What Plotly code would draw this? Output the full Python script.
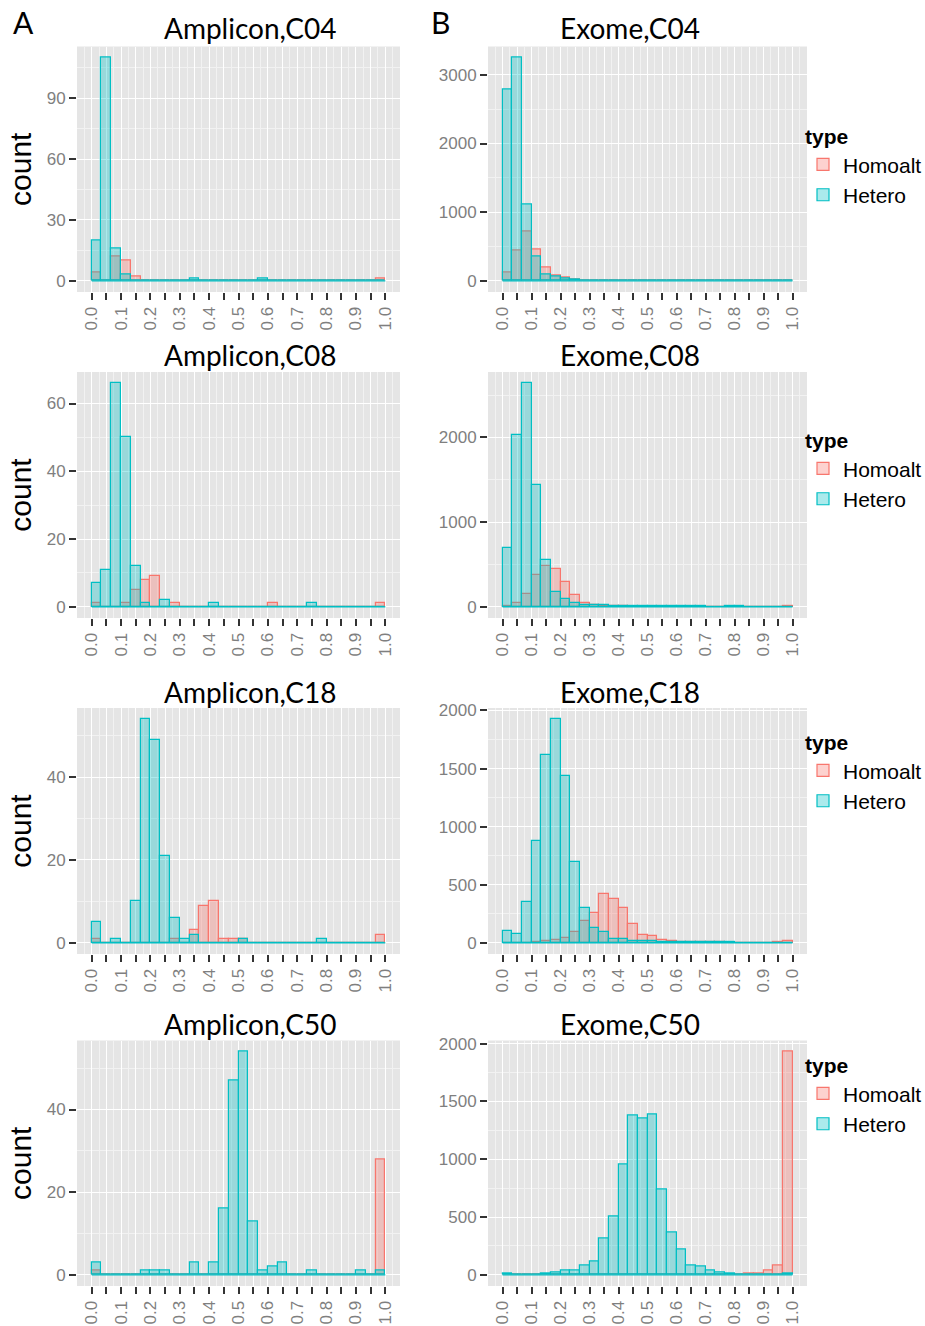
import numpy as np
import plotly.graph_objects as go

# ---------------- data (30 bins of allele frequency, 0..1) ----------------
N_BINS = 30
SERIES_NAMES = ["Homoalt", "Hetero"]
PANEL_TITLES = ["Amplicon,C04", "Exome,C04", "Amplicon,C08", "Exome,C08",
                "Amplicon,C18", "Exome,C18", "Amplicon,C50", "Exome,C50"]
X_TICK_LABELS = ["0.0", "0.1", "0.2", "0.3", "0.4", "0.5", "0.6", "0.7", "0.8", "0.9", "1.0"]
Y_TICK_STEP = [30, 1000, 20, 1000, 20, 500, 20, 500]

amp_c04_homo = [4, 0, 12, 10, 2, 0, 0, 0, 0, 0, 0, 0, 0, 0, 0, 0, 0, 0, 0, 0, 0, 0, 0, 0, 0, 0, 0, 0, 0, 1]
amp_c04_het = [20, 110, 16, 3, 0, 0, 0, 0, 0, 0, 1, 0, 0, 0, 0, 0, 0, 1, 0, 0, 0, 0, 0, 0, 0, 0, 0, 0, 0, 0]

exo_c04_homo = [120, 445, 720, 460, 190, 75, 45, 15, 8, 5, 3, 3, 2, 2, 2, 2, 1, 1, 1, 1, 1, 1, 1, 1, 1, 1, 1, 2, 3, 12]
exo_c04_het = [2790, 3250, 1110, 355, 92, 60, 35, 25, 8, 5, 10, 5, 4, 3, 3, 4, 3, 3, 3, 3, 3, 3, 3, 3, 3, 8, 3, 3, 5, 3]

amp_c08_homo = [1, 0, 0, 1, 5, 8, 9, 0, 1, 0, 0, 0, 0, 0, 0, 0, 0, 0, 1, 0, 0, 0, 0, 0, 0, 0, 0, 0, 0, 1]
amp_c08_het = [7, 11, 66, 50, 12, 1, 0, 2, 0, 0, 0, 0, 1, 0, 0, 0, 0, 0, 0, 0, 0, 0, 1, 0, 0, 0, 0, 0, 0, 0]

exo_c08_homo = [5, 50, 146, 380, 485, 445, 292, 142, 43, 20, 8, 5, 4, 3, 3, 2, 2, 2, 2, 2, 1, 1, 1, 1, 1, 1, 1, 1, 2, 12]
exo_c08_het = [700, 2030, 2640, 1435, 550, 178, 87, 43, 24, 16, 25, 12, 8, 8, 6, 6, 5, 5, 4, 4, 5, 3, 3, 4, 4, 3, 3, 3, 3, 3]

amp_c18_homo = [1, 0, 0, 0, 0, 0, 0, 0, 1, 0, 3, 9, 10, 1, 1, 1, 0, 0, 0, 0, 0, 0, 0, 0, 0, 0, 0, 0, 0, 2]
amp_c18_het = [5, 0, 1, 0, 10, 54, 49, 21, 6, 1, 2, 0, 0, 0, 0, 1, 0, 0, 0, 0, 0, 0, 0, 1, 0, 0, 0, 0, 0, 0]

exo_c18_homo = [0, 0, 0, 3, 15, 20, 45, 90, 190, 260, 420, 375, 300, 160, 65, 60, 25, 14, 10, 6, 4, 3, 3, 2, 2, 2, 2, 2, 3, 15]
exo_c18_het = [105, 80, 350, 880, 1620, 1925, 1440, 700, 300, 130, 90, 30, 30, 17, 15, 12, 8, 5, 4, 3, 3, 3, 3, 3, 2, 2, 2, 2, 2, 2]

amp_c50_homo = [1, 0, 0, 0, 0, 0, 0, 0, 0, 0, 0, 0, 0, 0, 0, 0, 0, 0, 0, 0, 0, 0, 0, 0, 0, 0, 0, 0, 0, 28]
amp_c50_het = [3, 0, 0, 0, 0, 1, 1, 1, 0, 0, 3, 0, 3, 16, 47, 54, 13, 1, 2, 3, 0, 0, 1, 0, 0, 0, 0, 1, 0, 1]

exo_c50_homo = [0, 0, 0, 0, 0, 0, 0, 0, 0, 0, 0, 0, 0, 0, 0, 0, 0, 0, 1, 1, 1, 1, 2, 2, 3, 8, 10, 35, 78, 1930]
exo_c50_het = [10, 2, 2, 3, 8, 20, 35, 35, 78, 113, 310, 505, 955, 1380, 1355, 1385, 735, 370, 215, 84, 72, 40, 20, 9, 5, 5, 4, 4, 4, 8]

PANEL_DATA = [
    (amp_c04_homo, amp_c04_het), (exo_c04_homo, exo_c04_het),
    (amp_c08_homo, amp_c08_het), (exo_c08_homo, exo_c08_het),
    (amp_c18_homo, amp_c18_het), (exo_c18_homo, exo_c18_het),
    (amp_c50_homo, amp_c50_het), (exo_c50_homo, exo_c50_het),
]

# ---------------- styling / layout ----------------
W, H = 925, 1326
COL_X = [(77, 400), (488, 807)]
ROW_Y = [(46.5, 292), (372, 618), (708, 954), (1040.5, 1286)]
TITLE_X = [250, 630]
TITLE_Y = [28, 355, 692, 1024]
LEGEND_TOP = [117, 421, 723, 1046]

RED_LINE = "#F8766D"
RED_FILL = "rgba(248,118,109,0.33)"
TEAL_LINE = "#00BFC4"
TEAL_FILL = "rgba(0,191,196,0.33)"
PANEL_BG = "#E5E5E5"
TICK_FONT = dict(family="Liberation Sans, Arial, sans-serif", size=17, color="#7F7F7F")
TITLE_FONT = "Lato, Open Sans, sans-serif"

edges = np.linspace(0.0, 1.0, N_BINS + 1)
centers = (edges[:-1] + edges[1:]) / 2
bin_w = edges[1] - edges[0]

x_tickvals = np.round(np.arange(0, 1.0001, 0.05), 2)
x_ticktext = []
for i in range(len(x_tickvals)):
    x_ticktext.append(X_TICK_LABELS[i // 2] if i % 2 == 0 else "")

fig = go.Figure()
layout = dict(
    width=W, height=H, autosize=False,
    margin=dict(l=0, r=0, t=0, b=0, pad=0, autoexpand=False),
    paper_bgcolor="white", plot_bgcolor=PANEL_BG,
    barmode="overlay", bargap=0,
    font=dict(family="Liberation Sans, Arial, sans-serif", color="black"),
    annotations=[], showlegend=True,
)

def px_to_paper_y(py):
    return 1 - py / H

for k, (homo, het) in enumerate(PANEL_DATA):
    r, c = divmod(k, 2)
    idx = "" if k == 0 else str(k + 1)
    xa, ya = "x" + idx, "y" + idx
    leg = "legend" if r == 0 else "legend%d" % (r + 1)
    show_leg = (c == 1)

    for name, vals, fill, line in [(SERIES_NAMES[0], homo, RED_FILL, RED_LINE),
                                    (SERIES_NAMES[1], het, TEAL_FILL, TEAL_LINE)]:
        fig.add_trace(go.Bar(
            x=centers, y=vals, width=bin_w, name=name,
            marker=dict(color=fill, line=dict(color=line, width=1.2)),
            xaxis=xa, yaxis=ya, legend=leg, showlegend=show_leg,
        ))
    # baseline drawn by empty bins (zero-height bars)
    fig.add_trace(go.Scatter(
        x=[edges[0], edges[-1]], y=[0, 0], mode="lines",
        line=dict(color=TEAL_LINE, width=1.2), xaxis=xa, yaxis=ya,
        showlegend=False, hoverinfo="skip",
    ))

    ymax = max(max(homo), max(het))
    step = Y_TICK_STEP[k]
    x0, x1 = COL_X[c]
    yt, yb = ROW_Y[r]
    layout["xaxis" + idx] = dict(
        domain=[x0 / W, x1 / W], anchor=ya, range=[-0.05, 1.05],
        tickmode="array", tickvals=x_tickvals, ticktext=x_ticktext,
        tickangle=-90, ticks="outside", ticklen=7, tickwidth=1.5, tickcolor="#333333",
        tickfont=TICK_FONT, showgrid=True, gridcolor="white", gridwidth=1.2,
        minor=dict(tickmode="linear", tick0=0.025, dtick=0.05, showgrid=True,
                   gridcolor="#F2F2F2", gridwidth=0.6),
        zeroline=False, showline=False, fixedrange=True, automargin=False,
    )
    ydict = dict(
        domain=[px_to_paper_y(yb), px_to_paper_y(yt)], anchor=xa,
        range=[-0.05 * ymax, 1.05 * ymax],
        tickmode="linear", tick0=0, dtick=step,
        ticks="outside", ticklen=7, tickwidth=1.5, tickcolor="#333333",
        tickfont=TICK_FONT, showgrid=True, gridcolor="white", gridwidth=1.2,
        minor=dict(tickmode="linear", tick0=step / 2, dtick=step, showgrid=True,
                   gridcolor="#F2F2F2", gridwidth=0.6),
        zeroline=False, showline=False, fixedrange=True, automargin=False,
    )
    if c == 0:
        ydict["title"] = dict(text="count", font=dict(size=30, color="black"), standoff=6)
    layout["yaxis" + idx] = ydict

    layout["annotations"].append(dict(
        text=PANEL_TITLES[k], xref="paper", yref="paper",
        x=TITLE_X[c] / W, y=px_to_paper_y(TITLE_Y[r]), xanchor="center", yanchor="middle",
        showarrow=False, font=dict(family=TITLE_FONT, size=28, color="black"),
    ))

    if c == 1:
        layout[leg] = dict(
            x=803 / W, y=px_to_paper_y(LEGEND_TOP[r]), xanchor="left", yanchor="top",
            xref="paper", yref="paper",
            title=dict(text="<b>type</b>", font=dict(size=21, color="black")),
            font=dict(size=21, color="black"), bgcolor="rgba(0,0,0,0)",
            tracegroupgap=0, traceorder="normal",
        )

for lab, px in [("A", 23), ("B", 440)]:
    layout["annotations"].append(dict(
        text=lab, xref="paper", yref="paper", x=px / W, y=px_to_paper_y(2),
        xanchor="center", yanchor="top", showarrow=False,
        font=dict(family=TITLE_FONT, size=30, color="black"),
    ))

fig.update_layout(**layout)
fig.write_html("out.html", config={"displayModeBar": False},
               post_script="document.body.style.margin='0px';")
